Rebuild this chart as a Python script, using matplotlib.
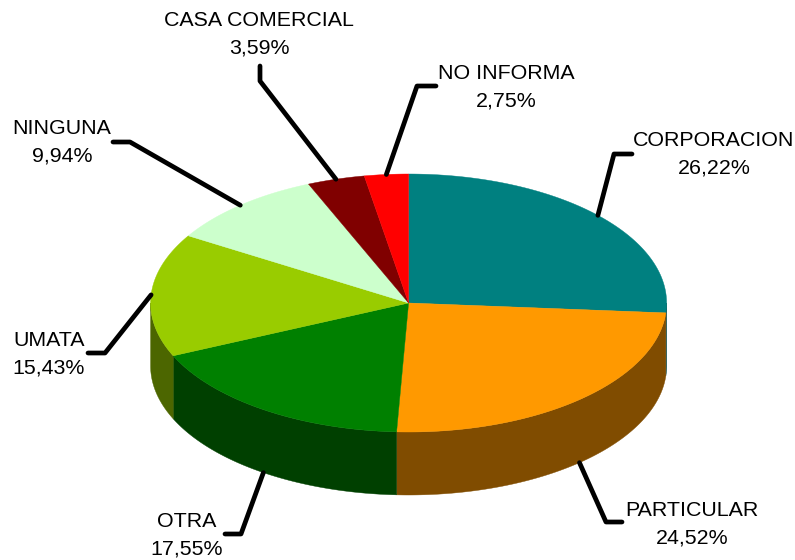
import numpy as np
import matplotlib
matplotlib.use('Agg')
import matplotlib.pyplot as plt
from matplotlib.patches import Polygon

labels = ['CORPORACION', 'PARTICULAR', 'OTRA', 'UMATA', 'NINGUNA', 'CASA COMERCIAL', 'NO INFORMA']
values = [26.22, 24.52, 17.55, 15.43, 9.94, 3.59, 2.75]
colors = ['#008080', '#FF9900', '#008000', '#99CC00', '#CCFFCC', '#800000', '#FF0000']
side_colors = ['#004040', '#804C00', '#004000', '#4C6600', '#668066', '#400000', '#800000']

cx, cy = 408.6, 303  # pie centre in pixels
rx, ry = 258, 129
depth = 63

# where each label sits and the elbow of its leader line
label_pos = [(714, 154.5), (692, 524), (187, 535.5), (49, 354.5), (62, 142.5), (259, 34.5), (506, 87)]
elbows = [[(614, 154), (632, 154)], [(606, 522), (622, 522)], [(241, 534), (225, 534)],
          [(105, 353), (88, 353)], [(130, 142), (113, 142)], [(260, 81), (260, 66)],
          [(417, 86), (436, 86)]]
# leaders on the front of the pie start at the bottom of the wall
on_wall = [False, True, True, False, False, False, False]


def rim(deg):
    t = np.radians(deg)
    return cx + rx * np.sin(t), cy - ry * np.cos(t)


plt.rcParams['font.family'] = ['Liberation Sans', 'DejaVu Sans']
fig = plt.figure(figsize=(7.95, 5.6), dpi=100)
ax = fig.add_axes([0, 0, 1, 1])
ax.set_xlim(0, 795)
ax.set_ylim(560, 0)
ax.axis('off')

edges = np.cumsum([0] + values) / sum(values) * 360

# outer wall, only the part facing us (90 to 270 degrees)
for i in range(len(values)):
    a = max(edges[i], 90)
    b = min(edges[i + 1], 270)
    if b <= a:
        continue
    x, y = rim(np.linspace(a, b, 200))
    pts = np.r_[np.c_[x, y], np.c_[x[::-1], y[::-1] + depth]]
    ax.add_patch(Polygon(pts, closed=True, fc=side_colors[i], ec=side_colors[i], lw=0.3, zorder=1))

# top of the pie
for i in range(len(values)):
    x, y = rim(np.linspace(edges[i], edges[i + 1], 200))
    pts = np.r_[[[cx, cy]], np.c_[x, y]]
    ax.add_patch(Polygon(pts, closed=True, fc=colors[i], ec=colors[i], lw=0.3, zorder=2))

# leader lines and labels
for i in range(len(values)):
    mid = (edges[i] + edges[i + 1]) / 2
    x0, y0 = rim(mid)
    if on_wall[i]:
        y0 += depth
    xs = [x0] + [p[0] for p in elbows[i]]
    ys = [y0] + [p[1] for p in elbows[i]]
    ax.plot(xs, ys, color='black', lw=3.4, solid_joinstyle='round', solid_capstyle='round', zorder=3)
    pct = ('%.2f%%' % values[i]).replace('.', ',')
    ax.text(label_pos[i][0], label_pos[i][1], labels[i] + '\n' + pct,
            ha='center', va='center', fontsize=15.4, linespacing=1.56, color='black', zorder=4)

fig.savefig('out.png', dpi=100, facecolor='white')
